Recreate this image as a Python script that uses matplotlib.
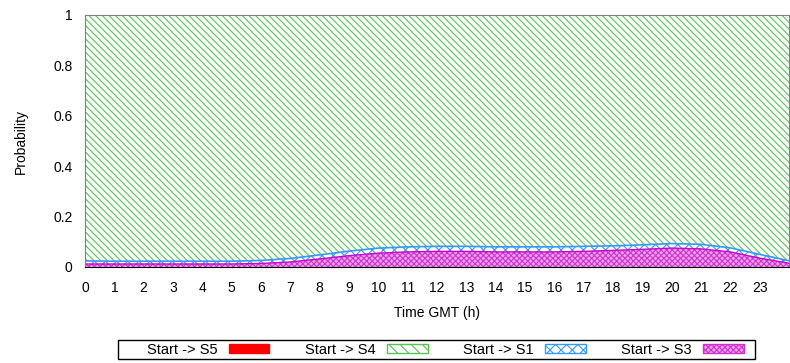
import matplotlib
matplotlib.use('Agg')
import matplotlib.pyplot as plt
import numpy as np
from matplotlib.patches import Patch, Rectangle

# hourly probabilities (GMT hour 0..24)
hours = list(range(25))
p_s5 = [0.0] * 25
p_s3 = [0.012, 0.012, 0.012, 0.012, 0.012, 0.012, 0.014, 0.02, 0.032, 0.045, 0.055,
        0.06, 0.062, 0.062, 0.06, 0.06, 0.06, 0.062, 0.066, 0.07, 0.075, 0.072,
        0.06, 0.035, 0.015]
p_s1 = [0.012, 0.011, 0.011, 0.011, 0.011, 0.011, 0.012, 0.014, 0.016, 0.018, 0.02,
        0.02, 0.02, 0.02, 0.02, 0.02, 0.02, 0.02, 0.018, 0.018, 0.018, 0.018,
        0.016, 0.015, 0.01]
p_s4 = [1 - a - b - c for a, b, c in zip(p_s5, p_s3, p_s1)]

labels = ['Start -> S5', 'Start -> S4', 'Start -> S1', 'Start -> S3']

plt.rcParams['font.family'] = ['Liberation Sans', 'DejaVu Sans']
plt.rcParams['hatch.linewidth'] = 0.8
fig = plt.figure(figsize=(7.9, 3.63), dpi=100)
ax = fig.add_axes([85 / 790, 1 - 267 / 363, 704 / 790, 252 / 363])

x = np.array(hours, dtype=float)
b0 = np.array(p_s5)
b1 = b0 + np.array(p_s3)
b2 = b1 + np.array(p_s1)
b3 = b2 + np.array(p_s4)

green_hatch = '\\' * 5
ax.fill_between(x, 0, b0, facecolor='red', edgecolor='red', lw=0)
ax.fill_between(x, b0, b1, facecolor='#f0a0f0', edgecolor='#cc33cc', hatch='xxxxxx', lw=0)
ax.plot(x, b1, color='#cc00cc', lw=1)
ax.fill_between(x, b1, b2, facecolor='white', edgecolor='#3399ff', hatch='xxx', lw=0)
ax.plot(x, b2, color='#3399ff', lw=1.2)
ax.fill_between(x, b2, b3, facecolor='white', edgecolor='#55c455', hatch=green_hatch, lw=0)

ax.set_xlim(0, 24)
ax.set_ylim(0, 1)
ax.set_xticks(range(24))
ax.set_yticks([0, 0.2, 0.4, 0.6, 0.8, 1])
ax.set_yticklabels(['0', '0.2', '0.4', '0.6', '0.8', '1'])
ax.tick_params(labelsize=10, length=0)
ax.tick_params(axis='y', pad=9)
ax.tick_params(axis='x', pad=10)
for s in ['left', 'top', 'right']:
    ax.spines[s].set_color('#808080')
ax.spines['bottom'].set_color('black')
ax.set_xlabel('Time GMT (h)', fontsize=10, labelpad=8)
ax.set_ylabel('Probability', fontsize=10, labelpad=18)

handles = [
    Patch(facecolor='red', edgecolor='red'),
    Patch(facecolor='white', edgecolor='#55c455', hatch='\\\\\\'),
    Patch(facecolor='white', edgecolor='#3399ff', hatch='xxx'),
    Patch(facecolor='#f0a0f0', edgecolor='#cc33cc', hatch='xxxxxx'),
]
leg = fig.legend(handles, labels, ncol=4, loc='center left',
                 bbox_to_anchor=(147 / 790, 1 - 350 / 363), markerfirst=False,
                 fontsize=10.5, frameon=False,
                 handlelength=2.8, handleheight=0.6, columnspacing=2.45,
                 borderpad=0, handletextpad=0.75, borderaxespad=0)
fig.patches.append(Rectangle((118 / 790, 1 - 359 / 363), 637 / 790, 19 / 363,
                             transform=fig.transFigure, facecolor='none',
                             edgecolor='black', lw=1))

fig.savefig('out.png', dpi=100)
